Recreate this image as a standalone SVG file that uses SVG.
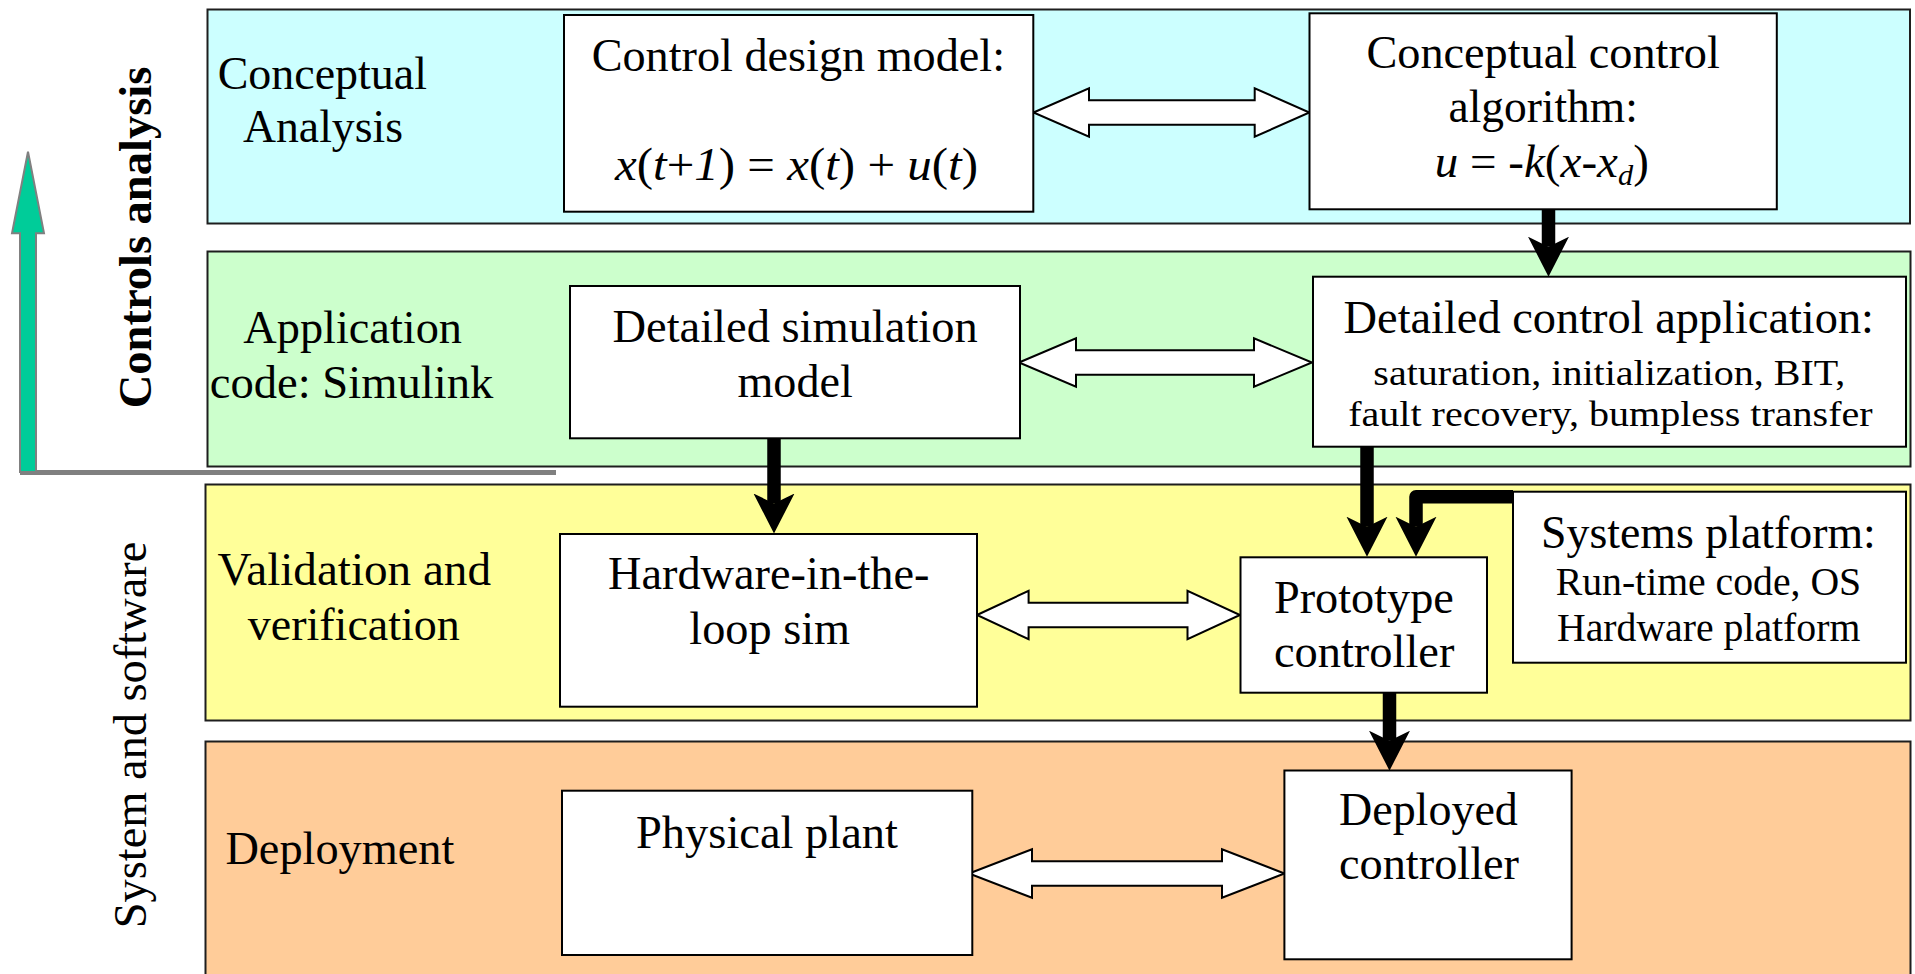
<svg xmlns="http://www.w3.org/2000/svg" width="1915" height="974" viewBox="0 0 1915 974" font-family="Liberation Serif, Times New Roman, serif">
  <style>
    .band{stroke:#1e1e1e;stroke-width:2}
    .box{fill:#fff;stroke:#000;stroke-width:2}
    .t{font-family:"Liberation Serif","Times New Roman",serif;font-size:46.5px;fill:#000}
    .s{font-size:40px}
    .xs{font-size:36px}
    .b{font-weight:bold}
    .i{font-style:italic}
    .dbl{fill:#fff;stroke:#000;stroke-width:2;stroke-linejoin:miter}
    .flow{fill:none;stroke:#000;stroke-width:13.5;stroke-linejoin:round;marker-end:url(#head)}
  </style>
  <defs>
    <!-- solid black notched arrowhead, notch sits at the line end -->
    <marker id="head" markerUnits="userSpaceOnUse" viewBox="0 -21 41 42" refX="10" refY="0" markerWidth="41" markerHeight="42" orient="auto">
      <path d="M0,-20.5 L40,0 L0,20.5 L10,0 Z" fill="#000"/>
    </marker>
  </defs>

  <rect width="1915" height="974" fill="#fff"/>

  <!-- horizontal stage bands -->
  <g id="bands">
    <rect class="band" x="207.5" y="9.5" width="1702.5" height="214" fill="#ccffff"/>
    <rect class="band" x="207.5" y="251.5" width="1703" height="215" fill="#ccffcc"/>
    <rect class="band" x="205.5" y="484.5" width="1705" height="236" fill="#ffff99"/>
    <rect class="band" x="205.5" y="741.5" width="1705" height="250" fill="#ffcc99"/>
  </g>

  <!-- side axis: upward arrow and the two vertical captions -->
  <g id="axis">
    <rect x="20" y="470" width="536" height="5" fill="#808080"/>
    <polygon points="28,151.7 44,233.3 36,233.3 36,472 20,472 20,233.3 12,233.3" fill="#00cc99" stroke="#808080" stroke-width="2"/>
    <text class="t b" transform="translate(151,237.5) rotate(-90)" text-anchor="middle" textLength="341.6" lengthAdjust="spacingAndGlyphs">Controls analysis</text>
    <text class="t" transform="translate(146,735) rotate(-90)" text-anchor="middle" textLength="386.6" lengthAdjust="spacingAndGlyphs">System and software</text>
  </g>

  <!-- stage labels -->
  <g id="stage-labels">
    <text class="t" x="217.7" y="89.3" textLength="209.3" lengthAdjust="spacingAndGlyphs">Conceptual</text>
    <text class="t" x="243" y="141.7" textLength="160" lengthAdjust="spacingAndGlyphs">Analysis</text>
    <text class="t" x="243.3" y="343.3" textLength="218.7" lengthAdjust="spacingAndGlyphs">Application</text>
    <text class="t" x="209.8" y="398.3" textLength="283.5" lengthAdjust="spacingAndGlyphs">code: Simulink</text>
    <text class="t" x="217.4" y="585" textLength="273.6" lengthAdjust="spacingAndGlyphs">Validation and</text>
    <text class="t" x="247.8" y="640" textLength="212" lengthAdjust="spacingAndGlyphs">verification</text>
    <text class="t" x="225.4" y="864.3" textLength="229" lengthAdjust="spacingAndGlyphs">Deployment</text>
  </g>

  <!-- connectors -->
  <g id="connectors">
    <path class="dbl" d="M1033.5,112.5 L1089,88.3 V100.2 H1254.7 V88.3 L1309.4,112.5 L1254.7,136.7 V124.8 H1089 V136.7 Z"/>
    <path class="dbl" d="M1019,362.5 L1076,338.3 V350.2 H1254 V338.3 L1312,362.5 L1254,386.7 V374.8 H1076 V386.7 Z"/>
    <path class="dbl" d="M977,615 L1028.6,590.8 V602.7 H1187.5 V590.8 L1240,615 L1187.5,639.2 V627.3 H1028.6 V639.2 Z"/>
    <path class="dbl" d="M969,873.5 L1032,849.3 V861.2 H1222 V849.3 L1284.5,873.5 L1222,897.7 V885.8 H1032 V897.7 Z"/>
    <path class="flow" d="M1548.5,209 V246.7"/>
    <path class="flow" d="M774,438 V503.5"/>
    <path class="flow" d="M1367,446.7 V526.7"/>
    <path class="flow" d="M1513,496.7 H1416 V526.7"/>
    <path class="flow" d="M1389.5,692.7 V740.7"/>
  </g>

  <g id="control-design-model">
    <rect class="box" x="564" y="15" width="469.3" height="196.7"/>
    <text class="t" x="591.7" y="71" textLength="413.3" lengthAdjust="spacingAndGlyphs">Control design model:</text>
    <text class="t" x="615" y="180" textLength="363" lengthAdjust="spacingAndGlyphs"><tspan class="i">x</tspan>(<tspan class="i">t</tspan>+<tspan class="i">1</tspan>) = <tspan class="i">x</tspan>(<tspan class="i">t</tspan>) + <tspan class="i">u</tspan>(<tspan class="i">t</tspan>)</text>
  </g>

  <g id="conceptual-control-algorithm">
    <rect class="box" x="1309.5" y="13.3" width="467.3" height="196"/>
    <text class="t" x="1366.4" y="68.3" textLength="353.4" lengthAdjust="spacingAndGlyphs">Conceptual control</text>
    <text class="t" x="1448.5" y="121.7" textLength="189.3" lengthAdjust="spacingAndGlyphs">algorithm:</text>
    <text class="t" x="1434.8" y="176.7" textLength="214" lengthAdjust="spacingAndGlyphs"><tspan class="i">u</tspan> = <tspan class="i">-k</tspan>(<tspan class="i">x-x</tspan><tspan class="i" font-size="30" dy="8">d</tspan><tspan dy="-8">)</tspan></text>
  </g>

  <g id="detailed-simulation-model">
    <rect class="box" x="570" y="286" width="450" height="152.3"/>
    <text class="t" x="612.5" y="341.7" textLength="365.2" lengthAdjust="spacingAndGlyphs">Detailed simulation</text>
    <text class="t" x="737.5" y="396.7" textLength="115.2" lengthAdjust="spacingAndGlyphs">model</text>
  </g>

  <g id="detailed-control-application">
    <rect class="box" x="1313" y="276.7" width="593" height="170"/>
    <text class="t" x="1343.6" y="333.3" textLength="530.4" lengthAdjust="spacingAndGlyphs">Detailed control application:</text>
    <text class="t xs" x="1373.3" y="384.5" textLength="472" lengthAdjust="spacingAndGlyphs">saturation, initialization, BIT,</text>
    <text class="t xs" x="1348.2" y="425.5" textLength="524.4" lengthAdjust="spacingAndGlyphs">fault recovery, bumpless transfer</text>
  </g>

  <g id="hardware-in-the-loop">
    <rect class="box" x="560" y="534" width="417" height="172.7"/>
    <text class="t" x="608" y="589.3" textLength="321.5" lengthAdjust="spacingAndGlyphs">Hardware-in-the-</text>
    <text class="t" x="689.3" y="644" textLength="160.7" lengthAdjust="spacingAndGlyphs">loop sim</text>
  </g>

  <g id="prototype-controller">
    <rect class="box" x="1240.5" y="557.3" width="246.5" height="135.4"/>
    <text class="t" x="1273.9" y="613.3" textLength="180" lengthAdjust="spacingAndGlyphs">Prototype</text>
    <text class="t" x="1273.9" y="667.3" textLength="180.5" lengthAdjust="spacingAndGlyphs">controller</text>
  </g>

  <g id="systems-platform">
    <rect class="box" x="1513" y="491.7" width="393" height="171"/>
    <text class="t" x="1541" y="548.3" textLength="334.8" lengthAdjust="spacingAndGlyphs">Systems platform:</text>
    <text class="t s" x="1555.7" y="595" textLength="305.5" lengthAdjust="spacingAndGlyphs">Run-time code, OS</text>
    <text class="t s" x="1557" y="640.7" textLength="303.3" lengthAdjust="spacingAndGlyphs">Hardware platform</text>
  </g>

  <g id="physical-plant">
    <rect class="box" x="562" y="790.7" width="410.3" height="164.3"/>
    <text class="t" x="636" y="848.3" textLength="262" lengthAdjust="spacingAndGlyphs">Physical plant</text>
  </g>

  <g id="deployed-controller">
    <rect class="box" x="1284.4" y="770.5" width="287.2" height="188.8"/>
    <text class="t" x="1339" y="825" textLength="178.8" lengthAdjust="spacingAndGlyphs">Deployed</text>
    <text class="t" x="1339" y="879.3" textLength="180" lengthAdjust="spacingAndGlyphs">controller</text>
  </g>
</svg>
